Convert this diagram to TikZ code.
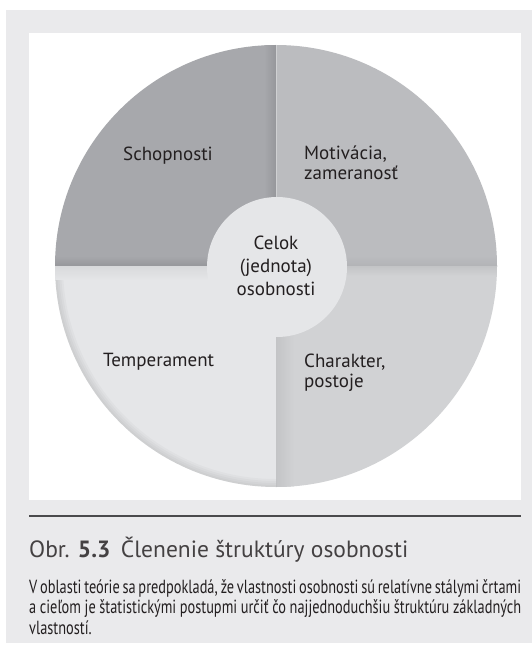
\documentclass[tikz,border=0pt]{standalone}
\usepackage{fontspec}
\setmainfont{PT Sans}
\newfontfamily\capfont{PT Sans}[FakeStretch=0.755]
\usetikzlibrary{calc}

\definecolor{panel}{HTML}{EAEAEC}
\definecolor{qtl}{HTML}{A7A8AC}
\definecolor{qtlshade}{HTML}{96979B}
\definecolor{qtr}{HTML}{BBBCBF}
\definecolor{qtrshade}{HTML}{B2B3B6}
\definecolor{qbl}{HTML}{E5E6E8}
\definecolor{qblshade}{HTML}{D8D9DB}
\definecolor{qbr}{HTML}{D1D2D4}
\definecolor{qbrshade}{HTML}{C3C4C6}
\definecolor{ink}{HTML}{231F20}
\definecolor{rulegray}{HTML}{4A4A4C}

\begin{document}
\begin{tikzpicture}[x=1pt,y=-1pt,
  quadtext/.style={font=\fontsize{19}{20}\selectfont, text=ink, inner sep=0pt},
  captext/.style={text=ink, inner sep=0pt, anchor=base west}]
\useasboundingbox (0,0) rectangle (532,650);
\fill[white] (0,0) rectangle (532,650);

% grey panel and the white figure area
\fill[panel] (6,10) rectangle (532,643);
\fill[white] (29,33) rectangle (521,500);

% the four quarters of the disc
\coordinate (c) at (276,266);
\begin{scope}
  \clip (c) circle[radius=221];
  \fill[qtl] (50,40) rectangle (276,266);
  \fill[qtr] (276,40) rectangle (500,266);
  \fill[qbl] (50,266) rectangle (276,490);
  \fill[qbr] (276,266) rectangle (500,490);
  % soft shadows along the dividing lines
  \shade[left color=qtl, right color=qtlshade] (264,40) rectangle (276,266);
  \shade[top color=qtl, bottom color=qtlshade] (50,256) rectangle (264,266);
  \shade[top color=qtr, bottom color=qtrshade] (277,256) rectangle (500,266);
  \shade[top color=qblshade, bottom color=qbl] (50,266) rectangle (276,280);
  \shade[left color=qbrshade, right color=qbr] (276,266) rectangle (294,490);
  \shade[top color=qbrshade, bottom color=qbr] (294,266) rectangle (500,276);
  \draw[white, opacity=0.35, line width=0.8pt] (276,40) -- (276,266);
  % faint inner shadow on the rim of the lower left quarter
  \begin{scope}
    \clip (50,280) rectangle (276,490);
    \foreach \w in {16,12,8,4}
      \draw[black, opacity=0.025, line width=\w pt] (c) circle[radius=221];
  \end{scope}
\end{scope}

% central disc, joined to the lower left quarter
\node[circle, fill=qbl, minimum size=140pt, inner sep=0pt] (whole) at (277,267) {};

% labels
\node[quadtext, anchor=base] (schop) at (168,160) {Schopnosti};
\node[quadtext, anchor=base west] (motiv) at (304,159)
  {\begin{tabular}[t]{@{}l@{}}Motivácia,\\zameranosť\end{tabular}};
\node[quadtext, anchor=base west] (temp) at (103,366) {Temperament};
\node[quadtext, anchor=base west] (char) at (304,367)
  {\begin{tabular}[t]{@{}l@{}}Charakter,\\postoje\end{tabular}};
\node[quadtext, font=\fontsize{19}{23.3}\selectfont, anchor=base] (celok) at (276,249)
  {\begin{tabular}[t]{@{}c@{}}Celok\\(jednota)\\osobnosti\end{tabular}};

% caption
\coordinate (rl) at (29,516);
\coordinate (rr) at (521,516);
\draw[rulegray, line width=1.6pt] (rl) -- (rr);
\node[captext, text=ink!85] (title) at (29,557)
  {\fontsize{23.5}{27}\selectfont Obr. \textbf{5.3}\hspace{0.45em}Členenie štruktúry osobnosti};
\node[captext] (cap1) at (29,593)
  {\fontsize{19}{20}\capfont\makebox[492pt][s]{V oblasti teórie sa predpokladá, že vlastnosti osobnosti sú relatívne stálymi črtami}};
\node[captext] (cap2) at (29,613.5)
  {\fontsize{19}{20}\capfont\makebox[492pt][s]{a cieľom je štatistickými postupmi určiť čo najjednoduchšiu štruktúru základných}};
\node[captext] (cap3) at (29,634)
  {\fontsize{19}{20}\capfont vlastností.};
\end{tikzpicture}
\end{document}
